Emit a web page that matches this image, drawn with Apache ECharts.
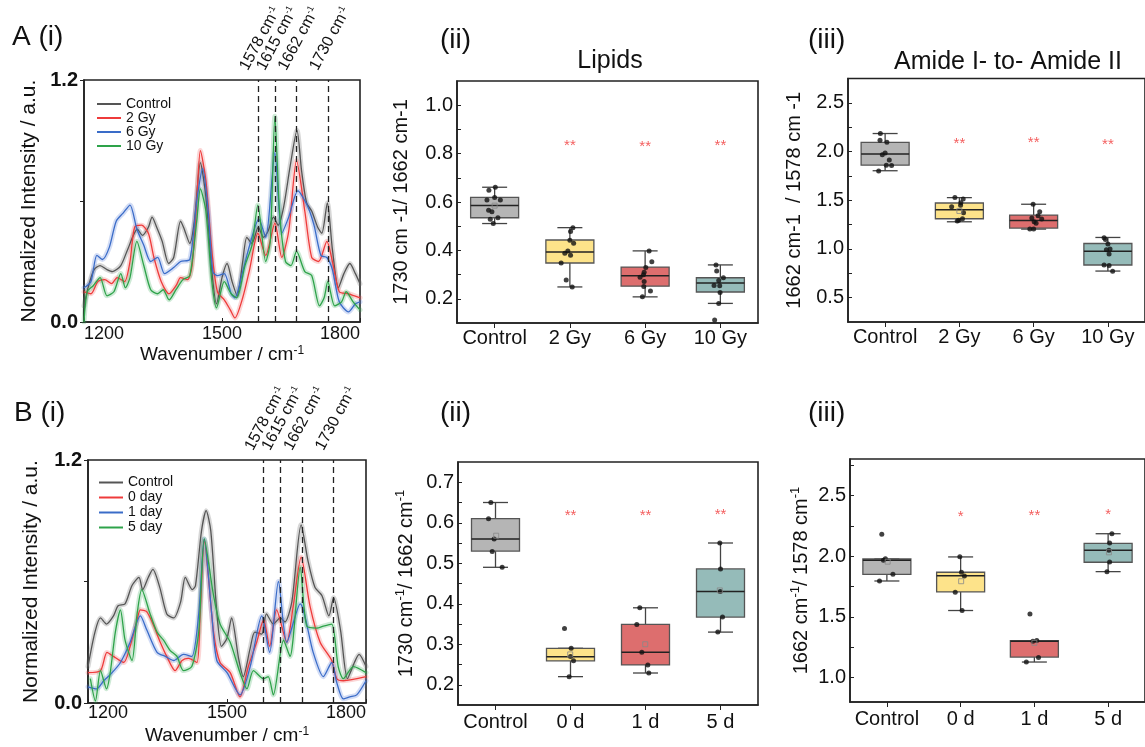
<!DOCTYPE html>
<html><head><meta charset="utf-8">
<script src="https://cdn.jsdelivr.net/npm/echarts@6/dist/echarts.min.js"></script>
<style>html,body{margin:0;padding:0;background:#fff}#c{width:1145px;height:747px}</style>
</head><body><div id="c"></div>
<script>
// ---------- DATA ----------
const specNamesA = ['Control', '2 Gy', '6 Gy', '10 Gy'];
const specNamesB = ['Control', '0 day', '1 day', '5 day'];
const dashWN = [1578, 1615, 1662, 1730];
const xTicksSpec = [1200, 1500, 1800];

const aControl = [[1200,0.08],[1210,0.18],[1222,0.26],[1235,0.28],[1250,0.26],[1262,0.25],[1280,0.28],[1295,0.36],[1316,0.46],[1327,0.43],[1340,0.47],[1348,0.52],[1358,0.47],[1370,0.40],[1384,0.29],[1395,0.32],[1410,0.50],[1418,0.46],[1430,0.39],[1440,0.50],[1453,0.79],[1465,0.62],[1478,0.25],[1488,0.09],[1500,0.22],[1511,0.29],[1522,0.20],[1533,0.13],[1545,0.30],[1554,0.42],[1565,0.39],[1579,0.47],[1590,0.42],[1600,0.45],[1612,0.52],[1622,0.48],[1634,0.57],[1648,0.77],[1663,0.95],[1673,0.75],[1684,0.59],[1695,0.55],[1708,0.47],[1717,0.44],[1729,0.59],[1740,0.36],[1753,0.17],[1765,0.24],[1778,0.29],[1790,0.24],[1800,0.19]];
const aRed = [[1200,0.15],[1215,0.14],[1230,0.20],[1245,0.21],[1260,0.19],[1272,0.22],[1288,0.20],[1300,0.30],[1310,0.47],[1325,0.48],[1340,0.44],[1352,0.32],[1368,0.20],[1385,0.14],[1400,0.18],[1410,0.22],[1425,0.21],[1435,0.28],[1445,0.60],[1453,0.85],[1465,0.70],[1478,0.35],[1490,0.15],[1505,0.11],[1518,0.06],[1528,0.02],[1545,0.12],[1560,0.26],[1578,0.44],[1595,0.33],[1615,0.49],[1630,0.32],[1645,0.45],[1662,0.80],[1680,0.55],[1695,0.32],[1710,0.30],[1728,0.40],[1740,0.30],[1755,0.15],[1775,0.14],[1800,0.12]];
const aBlue = [[1200,0.17],[1215,0.20],[1228,0.33],[1240,0.31],[1255,0.37],[1270,0.50],[1285,0.54],[1300,0.58],[1315,0.46],[1330,0.38],[1345,0.30],[1360,0.32],[1375,0.24],[1395,0.27],[1410,0.30],[1430,0.31],[1445,0.60],[1458,0.76],[1470,0.55],[1480,0.25],[1490,0.23],[1505,0.24],[1520,0.14],[1528,0.12],[1545,0.25],[1560,0.38],[1580,0.51],[1595,0.42],[1615,0.84],[1630,0.44],[1645,0.52],[1665,0.65],[1685,0.58],[1700,0.48],[1715,0.33],[1728,0.32],[1740,0.26],[1755,0.10],[1775,0.05],[1790,0.09],[1800,0.10]];
const aGreen = [[1200,0.0],[1207,0.15],[1220,0.18],[1235,0.22],[1250,0.13],[1265,0.15],[1280,0.24],[1290,0.17],[1300,0.22],[1315,0.40],[1330,0.28],[1345,0.16],[1360,0.14],[1372,0.16],[1385,0.11],[1400,0.16],[1415,0.21],[1430,0.23],[1445,0.50],[1453,0.66],[1465,0.55],[1478,0.20],[1488,0.07],[1505,0.20],[1520,0.14],[1532,0.12],[1550,0.28],[1565,0.38],[1578,0.58],[1595,0.30],[1605,0.40],[1615,1.02],[1625,0.55],[1638,0.30],[1650,0.28],[1662,0.35],[1680,0.25],[1695,0.23],[1712,0.08],[1722,0.12],[1730,0.20],[1745,0.08],[1760,0.10],[1770,0.15],[1785,0.10],[1800,0.06]];

const bControl = [[1200,0.18],[1215,0.35],[1227,0.42],[1240,0.39],[1255,0.43],[1265,0.48],[1280,0.49],[1295,0.58],[1310,0.62],[1318,0.56],[1330,0.62],[1340,0.66],[1355,0.57],[1370,0.44],[1385,0.42],[1400,0.50],[1410,0.62],[1425,0.56],[1432,0.58],[1445,0.85],[1455,0.95],[1465,0.85],[1478,0.45],[1488,0.28],[1500,0.32],[1510,0.42],[1525,0.22],[1535,0.13],[1550,0.27],[1560,0.35],[1575,0.34],[1585,0.44],[1600,0.39],[1615,0.42],[1625,0.40],[1640,0.50],[1660,0.88],[1675,0.70],[1690,0.57],[1705,0.53],[1720,0.43],[1730,0.52],[1745,0.36],[1760,0.12],[1775,0.20],[1785,0.24],[1800,0.18]];
const bRed = [[1200,0.15],[1227,0.16],[1241,0.25],[1255,0.23],[1277,0.20],[1291,0.28],[1306,0.41],[1313,0.46],[1327,0.45],[1342,0.38],[1356,0.30],[1370,0.23],[1388,0.16],[1403,0.21],[1417,0.22],[1435,0.20],[1442,0.44],[1451,0.80],[1471,0.35],[1485,0.20],[1507,0.15],[1528,0.03],[1546,0.18],[1564,0.30],[1579,0.41],[1592,0.28],[1607,0.46],[1629,0.30],[1643,0.48],[1660,0.72],[1679,0.48],[1701,0.30],[1726,0.21],[1737,0.12],[1751,0.11],[1800,0.13]];
const bBlue = [[1200,0.08],[1219,0.07],[1234,0.11],[1252,0.15],[1270,0.20],[1291,0.30],[1313,0.43],[1327,0.36],[1349,0.25],[1367,0.23],[1385,0.21],[1406,0.24],[1424,0.23],[1439,0.44],[1451,0.81],[1467,0.44],[1478,0.21],[1500,0.15],[1528,0.04],[1550,0.18],[1575,0.43],[1592,0.25],[1611,0.60],[1629,0.30],[1658,0.49],[1686,0.25],[1708,0.13],[1726,0.20],[1737,0.10],[1751,0.02],[1765,0.03],[1780,0.04],[1800,0.11]];
const bGreen = [[1205,0.12],[1216,0.01],[1227,0.16],[1240,0.07],[1248,0.15],[1259,0.35],[1270,0.46],[1280,0.31],[1295,0.21],[1306,0.44],[1316,0.56],[1334,0.44],[1349,0.35],[1363,0.31],[1377,0.26],[1392,0.23],[1406,0.16],[1424,0.18],[1439,0.35],[1451,0.81],[1471,0.53],[1485,0.39],[1507,0.30],[1528,0.15],[1543,0.07],[1557,0.16],[1579,0.12],[1589,0.13],[1600,0.04],[1622,0.31],[1636,0.23],[1658,0.67],[1672,0.38],[1694,0.37],[1708,0.38],[1726,0.39],[1740,0.18],[1751,0.12],[1773,0.18],[1800,0.15]];

const catsA = ['Control', '2 Gy', '6 Gy', '10 Gy'];
const catsB = ['Control', '0 d', '1 d', '5 d'];
// box stats: [min, Q1, median, Q3, max]
const aLipidStats = [[0.511,0.535,0.586,0.619,0.661],[0.249,0.348,0.393,0.443,0.494],[0.208,0.252,0.295,0.331,0.398],[0.181,0.228,0.265,0.287,0.340]];
const aLipidPts = [[-0.076,0.649],[0.009,0.661],[0,0.619],[-0.102,0.608],[0.076,0.608],[-0.08,0.566],[-0.036,0.560],[0.044,0.535],[-0.058,0.529],[-0.018,0.511],
[1.04,0.494],[1.009,0.478],[1.0,0.442],[1.05,0.430],[0.973,0.398],[0.933,0.388],[1.009,0.380],[0.884,0.348],[0.951,0.278],[1.031,0.249],
[2.053,0.398],[2.089,0.353],[2.009,0.329],[1.987,0.310],[1.978,0.299],[1.933,0.289],[1.987,0.271],[1.982,0.251],[2.071,0.232],[1.964,0.208],
[2.942,0.340],[2.951,0.315],[3.04,0.287],[2.978,0.276],[2.916,0.255],[2.991,0.254],[2.996,0.226],[2.978,0.181],[2.924,0.112]];
const aLipidMean = [[0,0.585]];
const aLipidSig = [[1,0.834,'**'],[2,0.826,'**'],[3,0.831,'**']];

const aAmideStats = [[1.803,1.86,1.975,2.095,2.185],[1.279,1.31,1.403,1.472,1.527],[1.204,1.214,1.293,1.348,1.459],[0.773,0.835,0.976,1.056,1.118]];
const aAmidePts = [[-0.064,2.185],[-0.069,2.116],[0.024,2.095],[0,1.985],[-0.038,1.968],[0.056,1.913],[0.016,1.86],[0.087,1.858],[-0.087,1.80],
[0.94,1.527],[1.051,1.513],[1.02,1.475],[0.896,1.434],[1.016,1.448],[1.056,1.372],[1.042,1.31],[0.971,1.286],[0.99,1.295],
[1.993,1.459],[2.082,1.382],[2.06,1.341],[1.976,1.317],[2.109,1.307],[2.007,1.279],[2.033,1.265],[1.949,1.204],[2.0,1.204],
[2.949,1.114],[2.967,1.097],[3.0,1.052],[3.029,1.0],[2.98,0.993],[3.016,0.948],[2.949,0.835],[3.016,0.829],[3.064,0.770]];
const aAmideMean = [[1.0,1.39]];
const aAmideSig = [[1,2.078,'**'],[2,2.085,'**'],[3,2.064,'**']];

const bLipidStats = [[0.49,0.53,0.56,0.61,0.65],[0.22,0.259,0.269,0.29,0.29],[0.229,0.249,0.28,0.349,0.39],[0.33,0.367,0.43,0.486,0.55]];
const bLipidPts = [[-0.062,0.65],[-0.093,0.61],[-0.018,0.56],[-0.044,0.529],[0.089,0.49],
[0.92,0.339],[1.009,0.29],[1.0,0.270],[1.04,0.259],[0.982,0.22],
[1.924,0.39],[1.884,0.349],[1.951,0.28],[2.031,0.249],[2.044,0.229],
[2.991,0.55],[3.0,0.486],[2.996,0.43],[3.027,0.367],[2.964,0.33]];
const bLipidMean = [[0.009,0.568],[0.996,0.275],[1.996,0.30],[2.991,0.433]];
const bLipidSig = [[1,0.6175,'**'],[2,0.6175,'**'],[3,0.62,'**']];

const bAmideStats = [[1.796,1.851,1.966,1.977,1.977],[1.553,1.706,1.84,1.868,1.994],[1.129,1.170,1.30,1.304,1.304],[1.873,1.95,2.048,2.106,2.185]];
const bAmidePts = [[-0.069,2.18],[-0.047,1.966],[-0.02,1.98],[0.082,1.851],[-0.1,1.796],
[0.989,1.996],[1.011,1.868],[1.051,1.838],[0.927,1.703],[1.02,1.553],
[1.94,1.525],[1.98,1.301],[2.033,1.307],[2.056,1.167],[1.891,1.129],
[3.051,2.185],[3.02,2.109],[3.011,2.048],[3.02,1.953],[2.984,1.873]];
const bAmideMean = [[0.011,1.955],[1.007,1.794],[2.0,1.287],[3.011,2.032]];
const bAmideSig = [[1,2.325,'*'],[2,2.33,'**'],[3,2.344,'*']];

// ---------- STYLE ----------
const FONT = "'Liberation Sans', Arial, Helvetica, sans-serif";
const INK = '#111';
const specColors = ['#555555', '#ee3b3b', '#3a6cc8', '#2ea34a'];
const bandColors = ['rgba(110,110,110,0.28)', 'rgba(240,90,90,0.25)', 'rgba(80,120,215,0.25)', 'rgba(60,170,90,0.25)'];
const boxColors = ['#b5b5b5', '#fde38a', '#dd6e6e', '#95bbb9'];

const chart = echarts.init(document.getElementById('c'), null, { renderer: 'canvas' });

const grids = [
  { left: 84, top: 80, width: 276, height: 242 },
  { left: 457, top: 81, width: 301, height: 242 },
  { left: 848, top: 78.5, width: 300, height: 243.5 },
  { left: 88, top: 460, width: 278, height: 243 },
  { left: 458, top: 462, width: 300, height: 243 },
  { left: 850, top: 459, width: 300, height: 243 }
].map(g => Object.assign({ show: true, borderColor: '#222', borderWidth: 1.6, backgroundColor: 'transparent', containLabel: false }, g));

const axisLine = { show: true, onZero: false, lineStyle: { color: '#222', width: 1.6 } };

function specX(gi, margin) {
  return {
    type: 'value', gridIndex: gi, min: 1200, max: 1800,
    axisLine: axisLine,
    axisTick: { show: true, inside: true, length: 4, customValues: xTicksSpec, lineStyle: { color: '#222' } },
    axisLabel: { customValues: xTicksSpec, formatter: v => String(v), fontSize: 18, color: INK, fontFamily: FONT, margin: margin, alignMinLabel: 'left', alignMaxLabel: 'right' },
    splitLine: { show: false },
    name: 'Wavenumber / cm{s|-1}', nameLocation: 'middle', nameGap: 23,
    nameTextStyle: { fontSize: 19, color: INK, fontFamily: FONT, rich: { s: { fontSize: 12, verticalAlign: 'top', fontFamily: FONT, color: INK } } }
  };
}
function specY(gi, gap) {
  return {
    type: 'value', gridIndex: gi, min: 0, max: 1.2,
    axisLine: axisLine,
    axisTick: { show: true, inside: false, length: 4, customValues: [0, 0.6, 1.2], lineStyle: { color: '#222' } },
    axisLabel: { customValues: [0, 1.2], formatter: v => v.toFixed(1), fontSize: 20, fontWeight: 'bold', color: INK, fontFamily: FONT, margin: 6 },
    splitLine: { show: false },
    name: 'Normalized Intensity / a.u.', nameLocation: 'middle', nameGap: gap,
    nameTextStyle: { fontSize: 21, color: INK, fontFamily: FONT }
  };
}
function catX(gi, cats, margin) {
  return {
    type: 'category', gridIndex: gi, data: cats, boundaryGap: true,
    axisLine: axisLine,
    axisTick: { show: true, alignWithLabel: true, inside: false, length: 5, interval: 0, lineStyle: { color: '#222' } },
    axisLabel: { interval: 0, fontSize: 20, color: INK, fontFamily: FONT, margin: margin, hideOverlap: false },
    splitLine: { show: false }
  };
}
function valX(gi) {
  return { type: 'value', gridIndex: gi, min: -0.5, max: 3.5, show: false, axisLine: { show: false, onZero: false }, splitLine: { show: false } };
}
function boxY(gi, min, max, labels, ticks, name, gap) {
  return {
    type: 'value', gridIndex: gi, min: min, max: max,
    axisLine: axisLine,
    axisTick: { show: true, inside: true, length: 4, customValues: ticks, lineStyle: { color: '#222' } },
    axisLabel: { customValues: labels, formatter: v => v.toFixed(1), fontSize: 20, color: INK, fontFamily: FONT, margin: 4 },
    splitLine: { show: false },
    name: name, nameLocation: 'middle', nameGap: gap,
    nameTextStyle: { fontSize: 20, color: INK, fontFamily: FONT, lineHeight: 24, rich: { s: { fontSize: 13, verticalAlign: 'top', fontFamily: FONT, color: INK } } }
  };
}
function steps(a, b, d) { const o = []; for (let v = a; v <= b + 1e-9; v += d) o.push(+v.toFixed(3)); return o; }

const xAxes = [
  specX(0, 3),          // 0
  catX(1, catsA, 5),    // 1
  valX(1),              // 2
  catX(2, catsA, 5),    // 3
  valX(2),              // 4
  specX(3, 1),          // 5
  catX(4, catsB, 7),    // 6
  valX(4),              // 7
  catX(5, catsB, 7),    // 8
  valX(5)               // 9
];
const yAxes = [
  specY(0, 44),
  boxY(1, 0.1, 1.1, steps(0.2, 1.0, 0.2), steps(0.2, 1.0, 0.1), '1730 cm -1/ 1662 cm-1', 44),
  boxY(2, 0.25, 2.75, steps(0.5, 2.5, 0.5), steps(0.5, 2.5, 0.25), '1662 cm-1  / 1578 cm -1', 42),
  specY(3, 46),
  boxY(4, 0.15, 0.75, steps(0.2, 0.7, 0.1), steps(0.2, 0.7, 0.05), '1730 cm{s|-1}/ 1662 cm{s|-1}', 40),
  boxY(5, 0.8, 2.8, steps(1.0, 2.5, 0.5), steps(1.0, 2.75, 0.25), '1662 cm{s|-1}/ 1578 cm{s|-1}', 37)
];

function specSeries(tag, xi, yi, names, curves) {
  const out = [];
  curves.forEach((d, k) => out.push({
    type: 'line', name: names[k] + ' band ' + tag, xAxisIndex: xi, yAxisIndex: yi, data: d,
    showSymbol: false, symbol: 'none', smooth: 0.25, silent: true, z: 1,
    lineStyle: { width: 5, color: bandColors[k], cap: 'round', join: 'round' }, itemStyle: { color: bandColors[k] }
  }));
  curves.forEach((d, k) => out.push({
    type: 'line', name: names[k], xAxisIndex: xi, yAxisIndex: yi, data: d,
    showSymbol: false, symbol: 'none', smooth: 0.25, z: 3,
    lineStyle: { width: 1.3, color: specColors[k] }, itemStyle: { color: specColors[k] }
  }));
  out.push({
    type: 'line', name: 'dash ' + tag, xAxisIndex: xi, yAxisIndex: yi, data: [], z: 4, silent: true,
    markLine: {
      symbol: 'none', silent: true, label: { show: false }, animation: false,
      lineStyle: { type: [6, 4], color: '#222', width: 1.3 },
      data: dashWN.map(v => ({ xAxis: v }))
    }
  });
  return out;
}

function boxRender(params, api) {
  const i = api.value(0);
  const pMin = api.coord([i, api.value(1)]);
  const pQ1 = api.coord([i, api.value(2)]);
  const pMed = api.coord([i, api.value(3)]);
  const pQ3 = api.coord([i, api.value(4)]);
  const pMax = api.coord([i, api.value(5)]);
  const cx = pMed[0], hw = 24, cw = 12.5;
  const ws = { stroke: '#444', lineWidth: 1.3 };
  return {
    type: 'group', children: [
      { type: 'line', shape: { x1: cx, y1: pMax[1], x2: cx, y2: pQ3[1] }, style: ws },
      { type: 'line', shape: { x1: cx, y1: pQ1[1], x2: cx, y2: pMin[1] }, style: ws },
      { type: 'line', shape: { x1: cx - cw, y1: pMax[1], x2: cx + cw, y2: pMax[1] }, style: ws },
      { type: 'line', shape: { x1: cx - cw, y1: pMin[1], x2: cx + cw, y2: pMin[1] }, style: ws },
      { type: 'rect', shape: { x: cx - hw, y: pQ3[1], width: 2 * hw, height: pQ1[1] - pQ3[1] },
        style: { fill: boxColors[params.dataIndex], stroke: '#555', lineWidth: 1.3 } },
      { type: 'line', shape: { x1: cx - hw, y1: pMed[1], x2: cx + hw, y2: pMed[1] }, style: { stroke: '#222', lineWidth: 1.5 } }
    ]
  };
}

function boxSeries(xc, xv, yi, stats, pts, means, sig) {
  return [
    { type: 'custom', xAxisIndex: xc, yAxisIndex: yi, renderItem: boxRender, z: 2,
      data: stats.map((s, i) => [i].concat(s)), encode: { x: 0, y: [1, 2, 3, 4, 5] } },
    { type: 'scatter', xAxisIndex: xv, yAxisIndex: yi, data: pts, symbol: 'circle', symbolSize: 5, z: 5,
      itemStyle: { color: '#111' } },
    { type: 'scatter', xAxisIndex: xv, yAxisIndex: yi, data: means, symbol: 'rect', symbolSize: 5, z: 5,
      itemStyle: { color: 'rgba(0,0,0,0)', borderColor: '#888', borderWidth: 1 } },
    { type: 'scatter', xAxisIndex: xc, yAxisIndex: yi, data: sig, symbolSize: 1, z: 6,
      itemStyle: { color: 'rgba(0,0,0,0)' },
      label: { show: true, position: 'inside', formatter: p => p.data[2], color: '#f03434', fontSize: 15, fontFamily: FONT } }
  ];
}

const series = [].concat(
  specSeries('A', 0, 0, specNamesA, [aControl, aRed, aBlue, aGreen]),
  boxSeries(1, 2, 1, aLipidStats, aLipidPts, aLipidMean, aLipidSig),
  boxSeries(3, 4, 2, aAmideStats, aAmidePts, aAmideMean, aAmideSig),
  specSeries('B', 5, 3, specNamesB, [bControl, bRed, bBlue, bGreen]),
  boxSeries(6, 7, 4, bLipidStats, bLipidPts, bLipidMean, bLipidSig),
  boxSeries(8, 9, 5, bAmideStats, bAmidePts, bAmideMean, bAmideSig)
);

const legendBase = {
  orient: 'vertical', icon: 'rect', itemWidth: 24, itemHeight: 2, itemGap: 0,
  selectedMode: false, padding: 0,
  textStyle: { fontSize: 14, color: INK, fontFamily: FONT, lineHeight: 14 }
};

function txt(id, x, y, text, size, align) {
  return { type: 'text', id: id, x: x, y: y, silent: true, z: 10,
    style: { text: text, fontSize: size, fontFamily: FONT, fill: INK, align: align || 'left', verticalAlign: 'middle' } };
}
const baseGraphics = [
  txt('pA', 12, 37, 'A (i)', 28), txt('pA2', 440, 40, '(ii)', 28), txt('pA3', 808, 40, '(iii)', 28),
  txt('pB', 14, 413, 'B (i)', 28), txt('pB2', 440, 413, '(ii)', 28), txt('pB3', 808, 413, '(iii)', 28),
  txt('tL', 610, 61, 'Lipids', 25, 'center'), txt('tA', 1008, 62, 'Amide I- to- Amide II', 25, 'center')
];

chart.setOption({
  animation: false,
  backgroundColor: '#fff',
  textStyle: { fontFamily: FONT },
  grid: grids,
  xAxis: xAxes,
  yAxis: yAxes,
  legend: [
    Object.assign({}, legendBase, { left: 97, top: 97, data: specNamesA }),
    Object.assign({}, legendBase, { left: 99, top: 475, data: specNamesB, textStyle: Object.assign({}, legendBase.textStyle, { lineHeight: 15 }) })
  ],
  series: series,
  graphic: { elements: baseGraphics }
});

// rotated peak labels placed at the dashed-line positions via the axis scale
const rot = 62 * Math.PI / 180;
const extra = [];
[[0, 'A'], [3, 'B']].forEach(([gi, tag]) => {
  dashWN.forEach((v, k) => {
    const p = chart.convertToPixel({ gridIndex: gi }, [v, 1.2]);
    extra.push({ type: 'text', id: 'dl' + tag + k, x: p[0] - 7, y: p[1] - 7, rotation: rot, silent: true, z: 10,
      style: { text: v + ' cm{s|-1}', fontSize: 16, fontFamily: FONT, fill: INK, align: 'left', verticalAlign: 'bottom',
        rich: { s: { fontSize: 9, verticalAlign: 'top', fontFamily: FONT, fill: INK } } } });
  });
});
chart.setOption({ graphic: { elements: baseGraphics.concat(extra) } });
</script>
</body></html>
